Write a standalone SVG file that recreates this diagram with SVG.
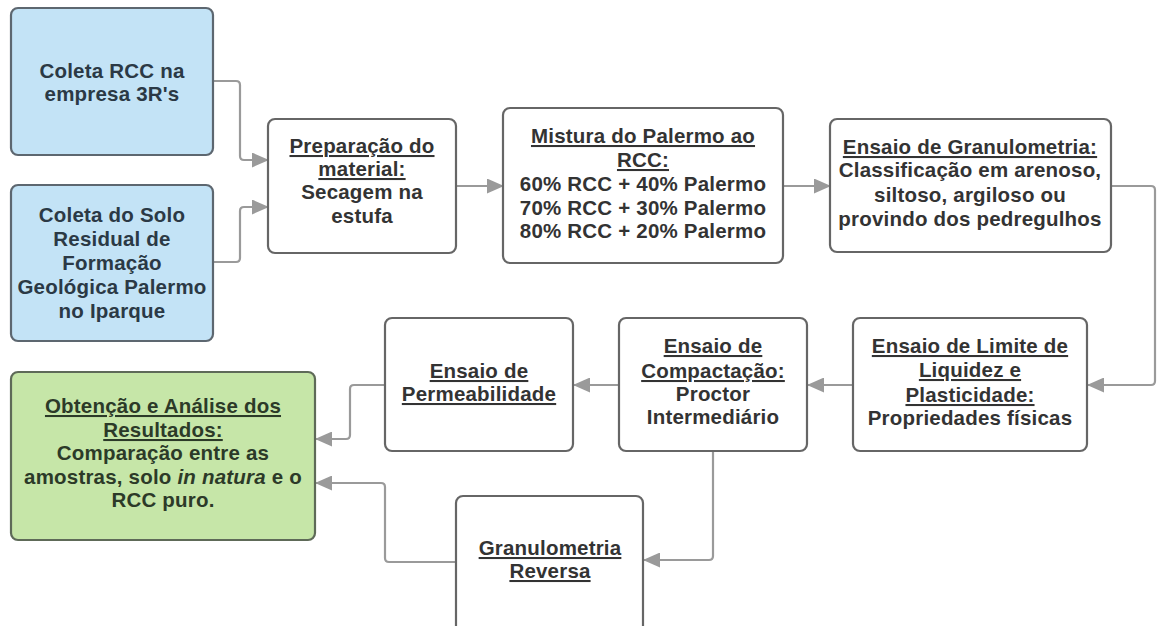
<svg xmlns="http://www.w3.org/2000/svg" width="1157" height="626" viewBox="0 0 1157 626">
<defs>
<marker id="arr" markerWidth="17" markerHeight="15" refX="16" refY="7.5" orient="auto" markerUnits="userSpaceOnUse">
<path d="M0,0 L17,7.5 L0,15 Z" fill="#9a9a9a"/>
</marker>
<style>
.box{fill:#ffffff;stroke:#666666;stroke-width:2.2}
.blue{fill:#c3e3f6;stroke:#5d6770;stroke-width:2.2}
.green{fill:#c6e6a8;stroke:#5e6a58;stroke-width:2.2}
text{font-family:"Liberation Sans",Arial,sans-serif;font-size:20.5px;font-weight:bold;letter-spacing:0.2px;text-anchor:middle;fill:#333333}
.tb{fill:#2b3945}
.tg{fill:#2c3a28}
.u{text-decoration:underline}
.c{fill:none;stroke:#9a9a9a;stroke-width:2.2;stroke-linejoin:round}
</style>
</defs>
<rect width="1157" height="626" fill="#ffffff"/>
<g id="connectors">
<path class="c" d="M213,81 H236 Q240,81 240,85 V156 Q240,160 244,160 H268" marker-end="url(#arr)"/>
<path class="c" d="M213,262 H236 Q240,262 240,258 V211 Q240,207 244,207 H268" marker-end="url(#arr)"/>
<path class="c" d="M456,186 H503" marker-end="url(#arr)"/>
<path class="c" d="M783,186 H830" marker-end="url(#arr)"/>
<path class="c" d="M1111,186 H1151 Q1155,186 1155,190 V381 Q1155,385 1151,385 H1088" marker-end="url(#arr)"/>
<path class="c" d="M853,385 H808" marker-end="url(#arr)"/>
<path class="c" d="M619,385 H574" marker-end="url(#arr)"/>
<path class="c" d="M385,385 H354 Q350,385 350,389 V435 Q350,439 346,439 H316" marker-end="url(#arr)"/>
<path class="c" d="M713,451 V556 Q713,560 709,560 H644" marker-end="url(#arr)"/>
<path class="c" d="M456,562 H389 Q385,562 385,558 V487 Q385,483 381,483 H316" marker-end="url(#arr)"/>
</g>
<g id="n1">
<rect class="blue" x="11" y="8" width="202" height="147" rx="7"/>
<text class="tb" x="112" y="78">Coleta RCC na</text>
<text class="tb" x="112" y="101">empresa 3R's</text>
</g>
<g id="n2">
<rect class="blue" x="11" y="185" width="202" height="156" rx="7"/>
<text class="tb" x="112" y="222">Coleta do Solo</text>
<text class="tb" x="112" y="246">Residual de</text>
<text class="tb" x="112" y="270">Formação</text>
<text class="tb" x="112" y="294">Geológica Palermo</text>
<text class="tb" x="112" y="318">no Iparque</text>
</g>
<g id="n3">
<rect class="box" x="268" y="119" width="188" height="134" rx="7"/>
<text x="362" y="153" class="u">Preparação do</text>
<text x="362" y="176" class="u">material:</text>
<text x="362" y="199">Secagem na</text>
<text x="362" y="223">estufa</text>
</g>
<g id="n4">
<rect class="box" x="503" y="108" width="280" height="155" rx="7"/>
<text x="643" y="143" class="u">Mistura do Palermo ao</text>
<text x="643" y="167" class="u">RCC:</text>
<text x="643" y="191">60% RCC + 40% Palermo</text>
<text x="643" y="215">70% RCC + 30% Palermo</text>
<text x="643" y="238">80% RCC + 20% Palermo</text>
</g>
<g id="n5">
<rect class="box" x="830" y="119" width="281" height="133" rx="7"/>
<text x="970" y="154" class="u">Ensaio de Granulometria:</text>
<text x="970" y="177">Classificação em arenoso,</text>
<text x="970" y="202">siltoso, argiloso ou</text>
<text x="970" y="226">provindo dos pedregulhos</text>
</g>
<g id="n6">
<rect class="box" x="853" y="318" width="234" height="133" rx="7"/>
<text x="970" y="353" class="u">Ensaio de Limite de</text>
<text x="970" y="377" class="u">Liquidez e</text>
<text x="970" y="402" class="u">Plasticidade:</text>
<text x="970" y="425">Propriedades físicas</text>
</g>
<g id="n7">
<rect class="box" x="619" y="318" width="188" height="133" rx="7"/>
<text x="713" y="353" class="u">Ensaio de</text>
<text x="713" y="378" class="u">Compactação:</text>
<text x="713" y="401">Proctor</text>
<text x="713" y="424">Intermediário</text>
</g>
<g id="n8">
<rect class="box" x="385" y="318" width="188" height="133" rx="7"/>
<text x="479" y="378" class="u">Ensaio de</text>
<text x="479" y="401" class="u">Permeabilidade</text>
</g>
<g id="n9">
<rect class="green" x="11" y="372" width="304" height="168" rx="7"/>
<text class="tg u" x="163" y="413">Obtenção e Análise dos</text>
<text class="tg u" x="163" y="437">Resultados:</text>
<text class="tg" x="163" y="460">Comparação entre as</text>
<text class="tg" x="163" y="484">amostras, solo <tspan font-style="italic">in natura</tspan> e o</text>
<text class="tg" x="163" y="507">RCC puro.</text>
</g>
<g id="n10">
<rect class="box" x="456" y="496" width="187" height="140" rx="7"/>
<text x="550" y="555" class="u">Granulometria</text>
<text x="550" y="578" class="u">Reversa</text>
</g>
</svg>
